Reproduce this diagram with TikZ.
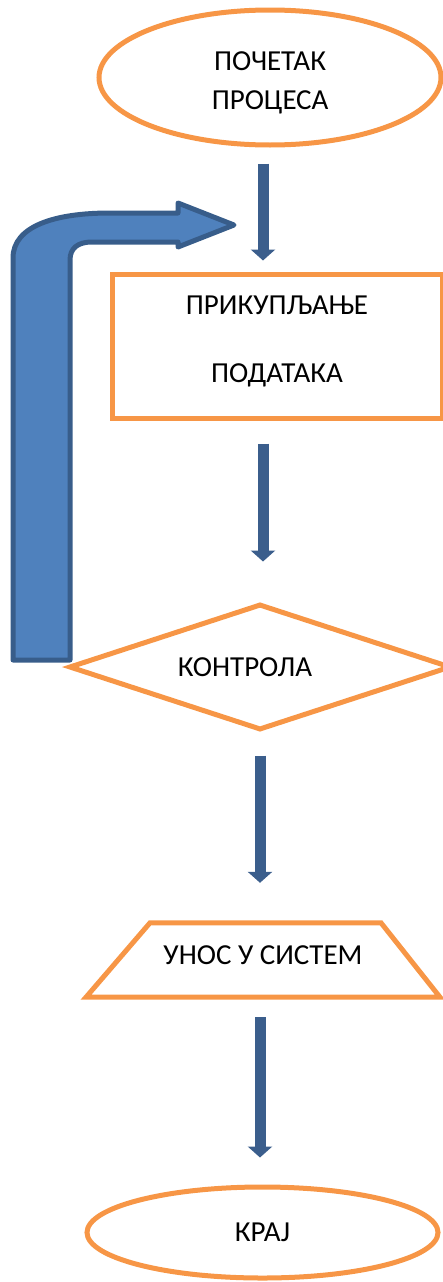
\documentclass[tikz,border=0pt]{standalone}
\usepackage{fontspec}
\setmainfont{Carlito}
\usetikzlibrary{arrows.meta,shapes.geometric}
\definecolor{shapeorange}{HTML}{F79646}
\definecolor{arrowblue}{HTML}{3B5E8C}
\definecolor{bentfill}{HTML}{4F81BD}
\definecolor{bentline}{HTML}{385D8A}
\tikzset{
  lbl/.style={font=\fontsize{29}{35}\selectfont, text=black},
  orangeline/.style={draw=shapeorange, line width=5pt},
  oval/.style={ellipse, orangeline, inner sep=0pt, lbl},
  box/.style={rectangle, orangeline, inner sep=0pt, lbl, align=center},
  decision/.style={diamond, orangeline, inner sep=0pt, lbl},
  flow/.style={draw=arrowblue, line width=11pt, -{Triangle[width=24pt,length=11pt]}},
  bent/.style={fill=bentfill, draw=bentline, line width=5pt, line join=round}
}
\begin{document}
\begin{tikzpicture}[x=1pt,y=-1pt]
\useasboundingbox (0,0) rectangle (443,1282);
% shapes
\node[oval, minimum width=342pt, minimum height=135pt, align=center] (start) at (270,77.5)
  {\mbox{}\\[-6pt]ПОЧЕТАК\\[4pt]ПРОЦЕСА};
\node[box, minimum width=330pt, minimum height=144pt] (collect) at (277,346)
  {ПРИКУПЉАЊЕ\\[33pt]ПОДАТАКА\\[-21pt]\mbox{}};
\node[decision, minimum width=382pt, minimum height=126pt] (ctl) at (260,667)
  {\hspace*{-30pt}КОНТРОЛА};
\node[lbl, inner sep=0pt, minimum width=355pt, minimum height=74pt, align=center] (input) at (263,960)
  {УНОС У СИСТЕМ\\[-25pt]\mbox{}};
\draw[orangeline, line join=miter] ([xshift=-113pt]input.north) -- ([xshift=118pt]input.north)
  -- ([xshift=177pt]input.south) -- ([xshift=-177pt]input.south) -- cycle;
\node[oval, minimum width=351pt, minimum height=91pt] (end) at (262.5,1232.5) {КРАЈ};
% connectors
\draw[flow] ([shift={(-7,16)}]start.south) -- ([shift={(-14,-11)}]collect.north);
\draw[flow] ([shift={(-14,23)}]collect.south) -- ([shift={(3,-40)}]ctl.north);
\draw[flow] ([shift={(0,23)}]ctl.south) -- ([shift={(-3,-40)}]input.north);
\draw[flow] ([shift={(-3,20)}]input.south) -- ([shift={(-2.5,-27)}]end.north);
% bent loop-back arrow
\draw[bent] (13,660) -- (13,258) .. controls (13,226) and (55,213) .. (110,213)
  -- (178,213) -- (178,203) -- (234,225) -- (178,247) -- (178,242)
  -- (92,242) .. controls (78,242) and (70,248) .. (70,260) -- (70,660) -- cycle;
\end{tikzpicture}
\end{document}
